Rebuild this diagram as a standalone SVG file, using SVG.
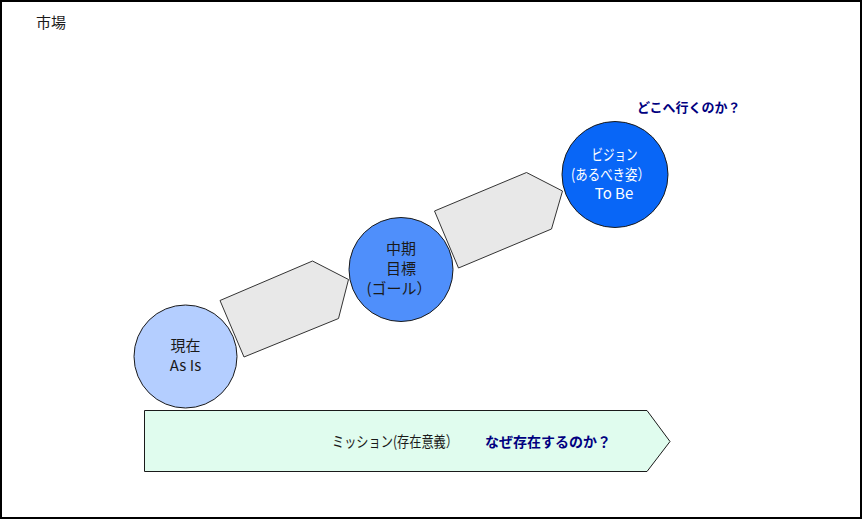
<svg xmlns="http://www.w3.org/2000/svg" width="862" height="520" viewBox="0 0 862 520">
<style>
text{font-family:"Noto Sans CJK JP","Noto Sans",sans-serif;}
.lbl{font-size:15px;fill:#1a1a1a;text-anchor:middle;}
.w{fill:#fff;}
.q{font-size:14px;font-weight:bold;fill:#000080;}
.arrow{fill:#e8e8e8;stroke:#333;stroke-width:1;}
.circ{stroke:#1a1a1a;stroke-width:1;}
</style>
<rect x="1" y="1" width="860" height="517" fill="#fff" stroke="#000" stroke-width="2"/>
<text x="36" y="28" font-size="15" fill="#1a1a1a">市場</text>
<g id="mission">
<polygon points="144.5,410.5 647,410.5 670,441.5 647,471.5 144.5,471.5" fill="#e0fcee" stroke="#1a1a1a" stroke-width="1"/>
<text x="332" y="447" font-size="15" fill="#1a1a1a" textLength="126" lengthAdjust="spacingAndGlyphs">ミッション(存在意義）</text>
<text class="q" x="485" y="447">なぜ存在するのか？</text>
</g>
<g id="connectors">
<polygon class="arrow" points="220,300.5 312.5,261 348.5,279.5 338.5,318.5 244,357"/>
<polygon class="arrow" points="434.5,211 526.5,172.5 562.5,191 551.5,229 458.5,268"/>
</g>
<g id="asis">
<circle class="circ" cx="185.5" cy="356.5" r="51.5" fill="#b4ceff"/>
<text class="lbl" x="185.5" y="351">現在</text>
<text class="lbl" x="185.5" y="371">As Is</text>
</g>
<g id="goal">
<circle class="circ" cx="401" cy="269.5" r="52" fill="#4f8ffb"/>
<text class="lbl" x="401" y="254">中期</text>
<text class="lbl" x="401" y="274">目標</text>
<text class="lbl" x="399" y="294">(ゴール）</text>
</g>
<g id="vision">
<circle class="circ" cx="615" cy="174.5" r="53" fill="#0866f7"/>
<text class="lbl w" x="614.5" y="160" textLength="46" lengthAdjust="spacingAndGlyphs">ビジョン</text>
<text class="lbl w" x="610.5" y="180" textLength="79" lengthAdjust="spacingAndGlyphs">(あるべき姿）</text>
<text class="lbl w" x="614" y="199">To Be</text>
<text class="q" x="637" y="112" style="font-size:13px">どこへ行くのか？</text>
</g>
</svg>
